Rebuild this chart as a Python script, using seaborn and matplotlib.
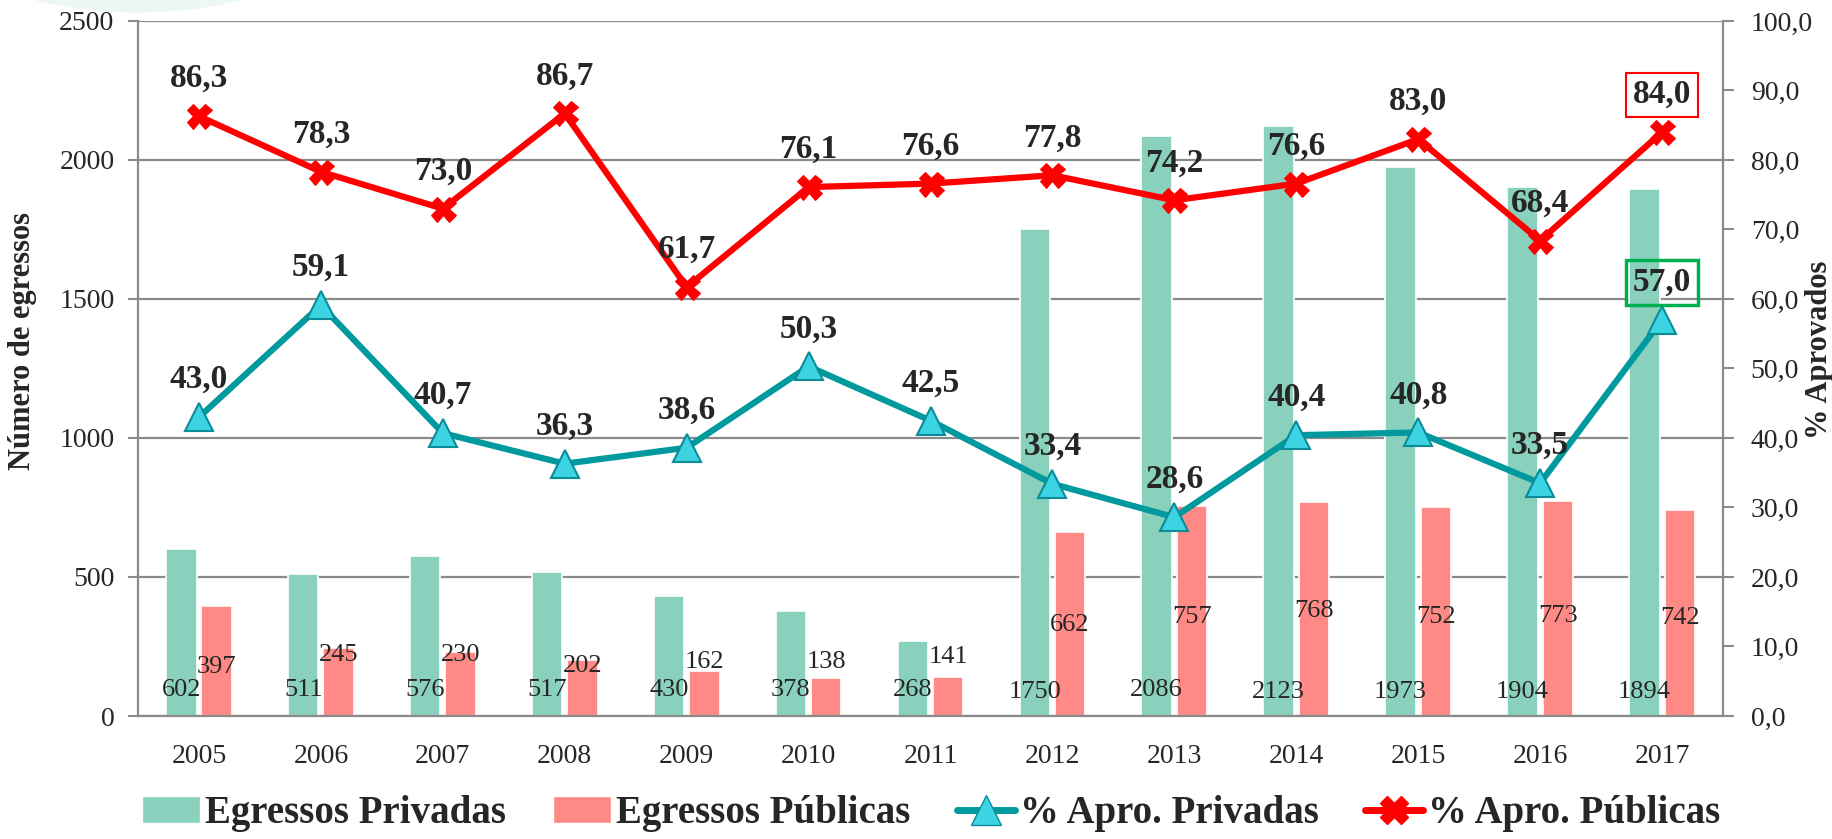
import matplotlib
matplotlib.use('Agg')
import matplotlib.pyplot as plt
import seaborn as sns
import pandas as pd
import numpy as np
from matplotlib.lines import Line2D
from matplotlib.patches import Patch, Ellipse
from matplotlib.ticker import FuncFormatter

anos = ['2005', '2006', '2007', '2008', '2009', '2010', '2011',
        '2012', '2013', '2014', '2015', '2016', '2017']
egressos_privadas = [602, 511, 576, 517, 430, 378, 268, 1750, 2086, 2123, 1973, 1904, 1894]
egressos_publicas = [397, 245, 230, 202, 162, 138, 141, 662, 757, 768, 752, 773, 742]
apro_privadas = [43.0, 59.1, 40.7, 36.3, 38.6, 50.3, 42.5, 33.4, 28.6, 40.4, 40.8, 33.5, 57.0]
apro_publicas = [86.3, 78.3, 73.0, 86.7, 61.7, 76.1, 76.6, 77.8, 74.2, 76.6, 83.0, 68.4, 84.0]
# heights (in number of graduates) where the bar labels sit in the original
rot_priv_y = [92, 92, 92, 92, 92, 92, 92, 88, 92, 88, 86, 88, 88]
rot_pub_y = [176, 219, 219, 180, 194, 194, 212, 327, 356, 378, 356, 360, 353]

verde = '#89D0BD'
rosa = '#FF8985'
teal = '#009A9E'
ciano = '#3CD3E3'

sns.set_style('white')
plt.rcParams['font.family'] = ['Liberation Serif', 'DejaVu Serif']

fig = plt.figure(figsize=(18.33, 8.39), dpi=100)
# faint decoration in the top-left corner
fig.patches.append(Ellipse((0.075, 1.08), 0.21, 0.19, transform=fig.transFigure,
                           facecolor='#EDF7F3', edgecolor='none', zorder=0))
ax = fig.add_axes([0.0753, 0.1466, 0.8647, 0.8284])
ax.patch.set_alpha(0)

df = pd.DataFrame({
    'Ano': anos * 2,
    'Egressos': egressos_privadas + egressos_publicas,
    'Tipo': ['Egressos Privadas'] * 13 + ['Egressos Públicas'] * 13,
})
sns.barplot(data=df, x='Ano', y='Egressos', hue='Tipo', palette=[verde, rosa],
            width=0.58, gap=0.14, ax=ax, legend=False, saturation=1,
            edgecolor='white', linewidth=1.2, zorder=2)

x = np.arange(len(anos))
for i in x:
    ax.text(i - 0.145, rot_priv_y[i], str(egressos_privadas[i]), ha='center', va='center',
            fontsize=19, zorder=3)
    ax.text(i + 0.145, rot_pub_y[i], str(egressos_publicas[i]), ha='center', va='center',
            fontsize=19, zorder=3)

ax.set_ylim(0, 2500)
ax.set_yticks(range(0, 2501, 500))
ax.set_xlim(-0.5, 12.5)
ax.set_xticks(np.arange(-0.5, 13, 1), minor=True)
ax.yaxis.grid(True, color='#8a8a8a', lw=1.6)
ax.set_axisbelow(True)
ax.tick_params(axis='x', which='major', length=0, pad=20, labelsize=20)
ax.tick_params(axis='x', which='minor', length=10, width=1.5, color='#8a8a8a', direction='out')
ax.tick_params(axis='y', length=7, width=1.5, color='#8a8a8a', pad=10, labelsize=20, left=True)
ax.set_xlabel('')
ax.set_ylabel('Número de egressos', fontsize=22, fontweight='bold')
ax.yaxis.set_label_coords(-0.064, 0.54)
for s in ['left', 'bottom']:
    ax.spines[s].set_color('#8a8a8a')
    ax.spines[s].set_linewidth(1.6)
ax.spines['top'].set_visible(False)
ax.spines['right'].set_visible(False)

ax2 = ax.twinx()
sns.lineplot(x=x, y=apro_privadas, ax=ax2, color=teal, lw=4.5, marker='^', markersize=20,
             markerfacecolor=ciano, markeredgecolor='#0B8C99', markeredgewidth=1.5, zorder=4)
sns.lineplot(x=x, y=apro_publicas, ax=ax2, color='#FF0000', lw=4.5, marker='X', markersize=18,
             markerfacecolor='#FF0000', markeredgecolor='#FF0000', zorder=5)

for i in x:
    ax2.annotate(f'{apro_privadas[i]:.1f}'.replace('.', ','), (i, apro_privadas[i]),
                 xytext=(0, 27), textcoords='offset points', ha='center', va='center',
                 fontsize=24, fontweight='bold', zorder=6)
    ax2.annotate(f'{apro_publicas[i]:.1f}'.replace('.', ','), (i, apro_publicas[i]),
                 xytext=(0, 27), textcoords='offset points', ha='center', va='center',
                 fontsize=24, fontweight='bold', zorder=6)

# highlighted last values
ax2.texts[-2].set_bbox(dict(boxstyle='square,pad=0.2', facecolor='none', edgecolor='#00B050', lw=2.5))
ax2.texts[-1].set_bbox(dict(boxstyle='square,pad=0.2', facecolor='none', edgecolor='#FF0000', lw=1.5))

ax2.set_ylim(0, 100)
ax2.set_yticks(range(0, 101, 10))
ax2.yaxis.set_major_formatter(FuncFormatter(lambda v, p: f'{v:.1f}'.replace('.', ',')))
ax2.tick_params(axis='y', length=8, width=1.5, color='#8a8a8a', pad=12, labelsize=20, right=True)
ax2.set_ylabel('% Aprovados', fontsize=22, fontweight='bold', rotation=90)
ax2.yaxis.set_label_coords(1.052, 0.527)
ax2.set_xlim(-0.5, 12.5)
for s in ['left', 'bottom', 'top']:
    ax2.spines[s].set_visible(False)
ax2.spines['right'].set_color('#8a8a8a')
ax2.spines['right'].set_linewidth(1.6)

handles = [
    Patch(facecolor=verde, edgecolor='white'),
    Patch(facecolor=rosa, edgecolor='white'),
    Line2D([0], [0], color=teal, lw=5, marker='^', ms=22, mfc=ciano, mec='#0B8C99'),
    Line2D([0], [0], color='#FF0000', lw=5, marker='X', ms=20, mfc='#FF0000', mec='#FF0000'),
]
labels = ['Egressos Privadas', 'Egressos Públicas', '% Apro. Privadas', '% Apro. Públicas']
fig.legend(handles, labels, loc='center', bbox_to_anchor=(0.508, 0.03), ncol=4, frameon=False,
           prop=dict(weight='bold', size=28), handlelength=1.5, handletextpad=0.12,
           columnspacing=1.2)

fig.savefig('out.png', dpi=100)
